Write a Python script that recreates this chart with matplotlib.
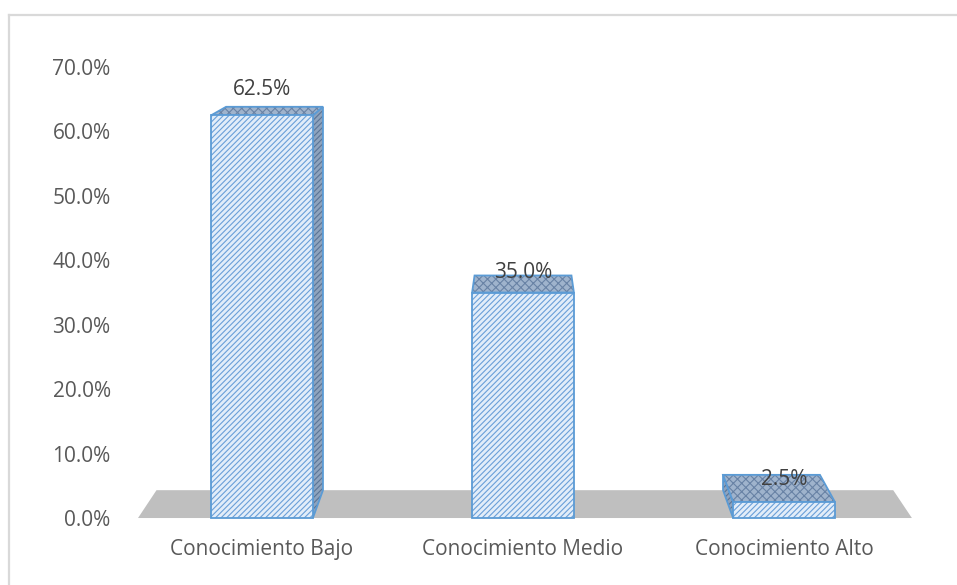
import matplotlib.pyplot as plt
from matplotlib.patches import Polygon
from matplotlib.lines import Line2D

categorias = ["Conocimiento Bajo", "Conocimiento Medio", "Conocimiento Alto"]
porcentajes = [62.5, 35.0, 2.5]
ticks_y = [0, 10, 20, 30, 40, 50, 60, 70]

plt.rcParams['font.family'] = ['Open Sans', 'DejaVu Sans']
plt.rcParams['hatch.linewidth'] = 0.8

fig = plt.figure(figsize=(9.57, 5.85), dpi=100)
ax = fig.add_axes([0.1374, 0.1145, 0.8182, 0.771])
ax.set_xlim(-0.5, 2.5)
ax.set_ylim(0, 70)

# punto de fuga para el falso 3D
vx, vy, s = 1.0, 90.0, 0.952


def fondo(x, y):
    return (vx + (x - vx) * s, vy + (y - vy) * s)


def cara(puntos, fc, hc, hatch, z):
    ax.add_patch(Polygon(puntos, closed=True, facecolor=fc, edgecolor=hc,
                         hatch=hatch, linewidth=0, zorder=z, clip_on=False))
    ax.add_patch(Polygon(puntos, closed=True, fill=False, edgecolor="#5b9bd5",
                         linewidth=1.3, zorder=z + 0.1, clip_on=False))


# piso gris
x0, x1 = -0.475, 2.49
piso = [(x0, 0), (x1, 0), fondo(x1, 0), fondo(x0, 0)]
ax.add_patch(Polygon(piso, closed=True, facecolor="#bfbfbf", edgecolor="none",
                     zorder=1, clip_on=False))

w = 0.195
desplaz = [12.5, 2.5, -3.5]
for i, v in enumerate(porcentajes):
    izq, der = i - w, i + w
    z = 2 + i
    # cara lateral visible
    if i < vx - 0.1:
        lado = [(der, 0), (der, v), fondo(der, v), fondo(der, 0)]
        cara(lado, "#8ea3bd", "#5a7496", "//////", z)
    elif i > vx + 0.1:
        lado = [(izq, 0), (izq, v), fondo(izq, v), fondo(izq, 0)]
        cara(lado, "#8ea3bd", "#5a7496", "//////", z)
    # tapa superior
    tapa = [(izq, v), (der, v), fondo(der, v), fondo(izq, v)]
    cara(tapa, "#9fb3cc", "#6882a5", "xxxx", z + 0.2)
    # cara frontal
    frente = [(izq, 0), (der, 0), (der, v), (izq, v)]
    cara(frente, "#e2edf9", "#6a9fd8", "//////", z + 0.4)

    by = fondo(i, v)[1]
    ax.annotate(f"{v:.1f}%", (i, by), xytext=(0, desplaz[i]),
                textcoords="offset points", ha="center", va="center",
                fontsize=15, color="#404040", zorder=10)

ax.set_xticks(range(len(categorias)))
ax.set_xticklabels(categorias)
ax.set_yticks(ticks_y)
ax.set_yticklabels([f"{t:.1f}%" for t in ticks_y])
ax.tick_params(axis="x", length=0, pad=15, labelsize=15, colors="#595959")
ax.tick_params(axis="y", length=0, pad=15, labelsize=15, colors="#595959")
for sp in ax.spines.values():
    sp.set_visible(False)
ax.patch.set_alpha(0)

# marco exterior del gráfico
W, H = 957, 585
fig.add_artist(Line2D([9 / W, 1], [1 - 15 / H, 1 - 15 / H], color="#d9d9d9", lw=1.6))
fig.add_artist(Line2D([9 / W, 9 / W], [0, 1 - 15 / H], color="#d9d9d9", lw=1.6))

fig.savefig("out.png", dpi=100)
